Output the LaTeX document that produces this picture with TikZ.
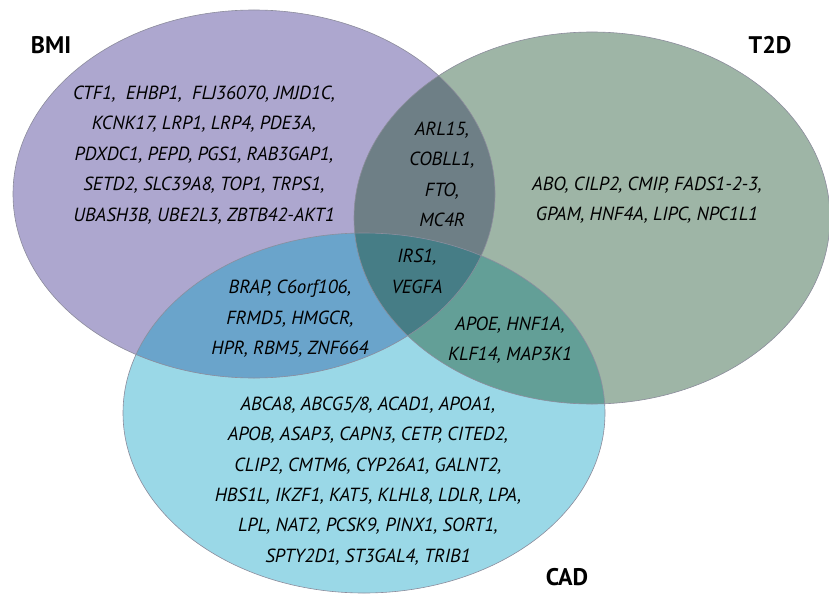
\documentclass[tikz,border=0pt]{standalone}
\usepackage{fontspec}
\setsansfont{PT Sans}
\definecolor{cbmi}{HTML}{ADA7CF}
\definecolor{ct2d}{HTML}{9EB5A6}
\definecolor{ccad}{HTML}{9AD8E7}
\definecolor{cbt}{HTML}{6E7F86}
\definecolor{cbc}{HTML}{6AA4CB}
\definecolor{ctc}{HTML}{639F97}
\definecolor{cbtc}{HTML}{467D86}
\definecolor{crim}{HTML}{8C8C9C}
\begin{document}
\begin{tikzpicture}[x=1pt,y=-1pt,
  gene/.style={font=\sffamily\itshape\fontsize{19}{30.4}\selectfont, align=center, text=black, inner sep=0pt},
  setlabel/.style={font=\sffamily\bfseries\fontsize{24}{26}\selectfont, inner sep=0pt},
  rim/.style={draw=crim, line width=0.6pt}]
\useasboundingbox (0,0) rectangle (829,599);
\def\bmiE{(254,194) ellipse [x radius=241, y radius=184]}
\def\tdE{(592,218) ellipse [x radius=238, y radius=186]}
\def\cadE{(364,413) ellipse [x radius=241, y radius=180]}
% base fills
\fill[cbmi] \bmiE;
\fill[ct2d] \tdE;
\fill[ccad] \cadE;
% pairwise overlaps
\begin{scope}\clip \bmiE; \fill[cbt] \tdE; \end{scope}
\begin{scope}\clip \bmiE; \fill[cbc] \cadE; \end{scope}
\begin{scope}\clip \tdE; \fill[ctc] \cadE; \end{scope}
% triple overlap
\begin{scope}\clip \bmiE; \clip \tdE; \fill[cbtc] \cadE; \end{scope}
% rims
\draw[rim] \bmiE;
\draw[rim] \tdE;
\draw[rim] \cadE;
% set labels
\node[setlabel] (lbmi) at (51,45) {BMI};
\node[setlabel] (lt2d) at (770,45) {T2D};
\node[setlabel] (lcad) at (567,577) {CAD};
% gene lists
\node[gene] (gbmi) at (204,155) {CTF1,~ EHBP1,~ FLJ36070, JMJD1C,\\KCNK17, LRP1, LRP4, PDE3A,\\PDXDC1, PEPD, PGS1, RAB3GAP1,\\SETD2, SLC39A8, TOP1, TRPS1,\\UBASH3B, UBE2L3, ZBTB42-AKT1};
\node[gene] (gbt) at (442,174.5) {ARL15,\\COBLL1,\\FTO,\\MC4R};
\node[gene] (gbtc) at (417,271.5) {IRS1,\\VEGFA};
\node[gene] (gt2d) at (647,200) {ABO, CILP2, CMIP, FADS1-2-3,\\GPAM, HNF4A, LIPC, NPC1L1};
\node[gene] (gbc) at (290,319) {BRAP, C6orf106,\\FRMD5, HMGCR,\\HPR, RBM5, ZNF664};
\node[gene] (gtc) at (510,340) {APOE, HNF1A,\\KLF14, MAP3K1};
\node[gene] (gcad) at (368,481) {ABCA8, ABCG5/8, ACAD1, APOA1,\\APOB, ASAP3, CAPN3, CETP, CITED2,\\CLIP2, CMTM6, CYP26A1, GALNT2,\\HBS1L, IKZF1, KAT5, KLHL8, LDLR, LPA,\\LPL, NAT2, PCSK9, PINX1, SORT1,\\SPTY2D1, ST3GAL4, TRIB1};
\end{tikzpicture}
\end{document}
